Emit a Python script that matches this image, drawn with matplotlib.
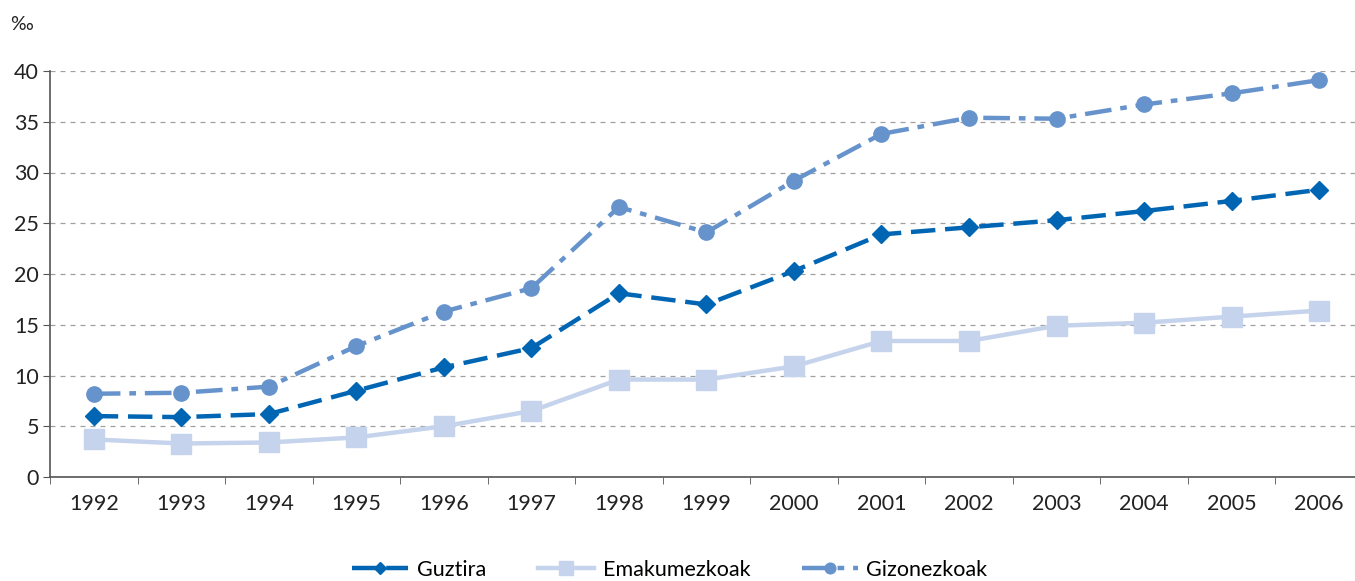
import matplotlib
matplotlib.use('Agg')
import matplotlib.pyplot as plt
import numpy as np

years = ['1992', '1993', '1994', '1995', '1996', '1997', '1998', '1999',
         '2000', '2001', '2002', '2003', '2004', '2005', '2006']

guztira = [6.0, 5.9, 6.2, 8.5, 10.8, 12.7, 18.1, 17.0, 20.3, 23.9, 24.6, 25.3, 26.2, 27.2, 28.3]
emakumezkoak = [3.7, 3.3, 3.4, 3.9, 5.0, 6.5, 9.6, 9.6, 10.9, 13.4, 13.4, 14.9, 15.2, 15.8, 16.4]
gizonezkoak = [8.2, 8.3, 8.9, 12.9, 16.3, 18.6, 26.6, 24.1, 29.2, 33.8, 35.4, 35.3, 36.7, 37.8, 39.1]

plt.rcParams['font.family'] = ['Lato', 'DejaVu Sans']

fig = plt.figure(figsize=(13.55, 5.81), dpi=100)
ax = fig.add_axes([50/1355, 1 - 477/581, 1 - 50/1355, (477 - 71)/581])

x = np.arange(len(years))

ax.plot(x, guztira, color='#0066b3', lw=3.2, ls=(0, (5.5, 2.2)), marker='D', ms=9,
        label='Guztira', zorder=3)
ax.plot(x, emakumezkoak, color='#c5d3ec', lw=3.2, ls='-', marker='s', ms=14,
        label='Emakumezkoak', zorder=2)
ax.plot(x, gizonezkoak, color='#6693cc', lw=3.2, ls=(0, (6, 2, 1.5, 2)), marker='o', ms=11,
        label='Gizonezkoak', zorder=2)

ax.set_xlim(-0.5, 14.41)
ax.set_ylim(0, 40)
ax.set_yticks(range(0, 41, 5))
ax.set_xticks(x)
ax.set_xticklabels(years)
ax.set_xticks(np.arange(-0.5, 14.5, 1), minor=True)
ax.tick_params(axis='x', which='major', length=0, pad=12, labelsize=15.5, colors='#222222')
ax.tick_params(axis='x', which='minor', length=5, color='#555555')
ax.tick_params(axis='y', length=5, labelsize=15.5, color='#555555', labelcolor='#222222', pad=3)

ax.grid(axis='y', ls=(0, (4, 4)), color='#a0a0a0', lw=0.9)
for s in ['top', 'right']:
    ax.spines[s].set_visible(False)
for s in ['left', 'bottom']:
    ax.spines[s].set_color('#555555')
    ax.spines[s].set_linewidth(1.2)
ax.set_axisbelow(True)

fig.text(10/1355, 1 - 25/581, '‰', fontsize=14, va='center', color='#222222')

fig.legend(loc='center', bbox_to_anchor=(670/1355, 1 - 570/581), ncol=3, frameon=False,
           fontsize=15.5, handlelength=2.6, handletextpad=0.4, columnspacing=2.4,
           markerscale=0.7)

fig.savefig('out.png', dpi=100)
